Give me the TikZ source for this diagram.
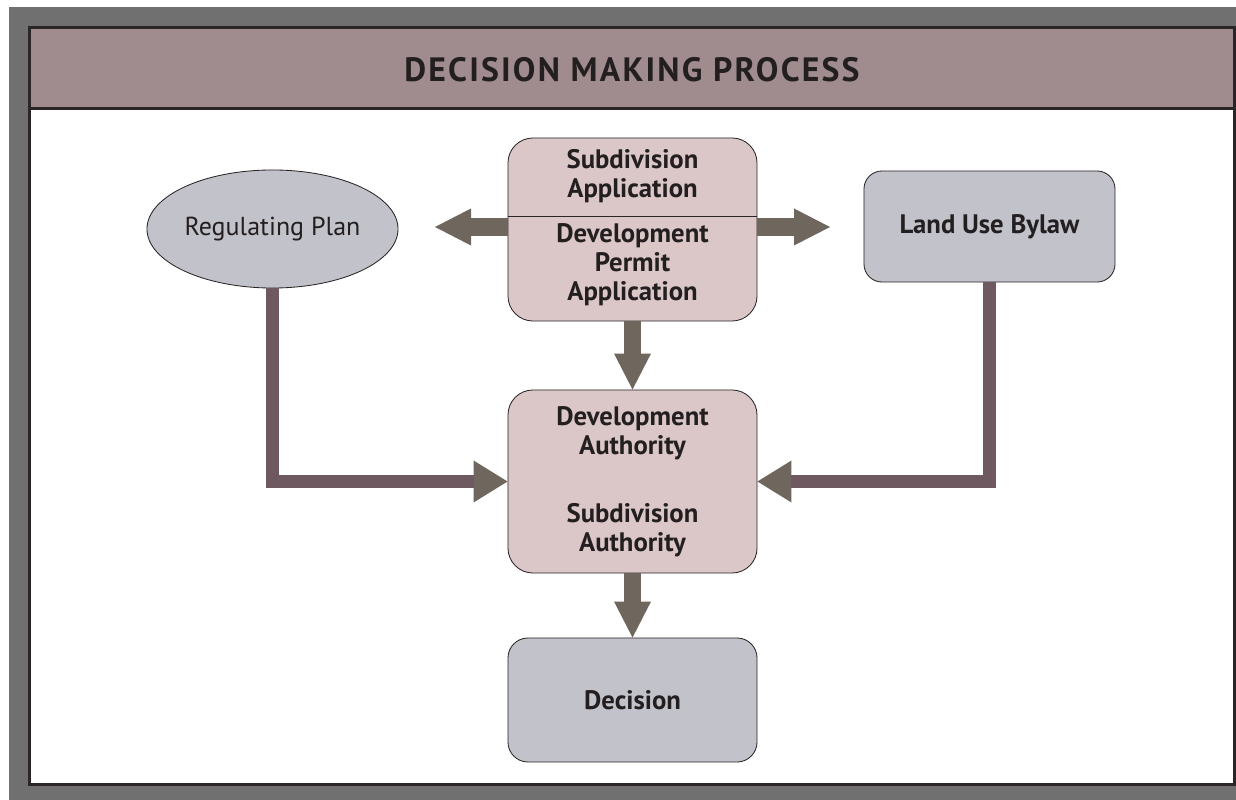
\documentclass[tikz,border=0pt]{standalone}
\usepackage{fontspec}
\setmainfont{PT Sans}
\usepackage{xcolor}
\usepackage{tikz}
\usetikzlibrary{shapes, arrows.meta, positioning}
\definecolor{dmframe}{RGB}{112,112,112}
\definecolor{dmhead}{RGB}{160,139,142}
\definecolor{dmline}{RGB}{42,37,39}
\definecolor{dmpink}{RGB}{219,199,199}
\definecolor{dmgray}{RGB}{194,194,202}
\definecolor{dmarrow}{RGB}{111,103,93}
\definecolor{dmelbow}{RGB}{110,89,96}
\definecolor{dmtext}{RGB}{35,31,32}

\begin{document}
\begin{tikzpicture}[x=0.025cm, y=-0.025cm,
    box/.style={draw=dmline, line width=0.6pt, rounded corners=0.625cm,
        minimum width=6.225cm, align=center, text=dmtext,
        font=\fontsize{19}{20.6}\selectfont\bfseries},
    boxtext/.style={align=center, text=dmtext, font=\fontsize{19}{20.6}\selectfont\bfseries},
    fatarrow/.style={dmarrow, line width=0.43cm,
        -{Triangle[length=0.9cm, width=0.925cm, line width=0pt]}},
    elbow/.style={dmelbow, line width=0.325cm,
        -{Triangle[length=0.85cm, width=1.05cm, line width=0pt, color=dmarrow]}}]
    \useasboundingbox (0,0) rectangle (1236,800);
    % frame and title band
    \fill[dmframe] (9,7) rectangle (1236,800);
    \draw[dmline, line width=2.2pt, fill=white] (29.5,27.5) rectangle (1235,784.5);
    \draw[dmline, line width=2.2pt, fill=dmhead] (29.5,27.5) rectangle (1235,108.5);
    \node[text=dmtext, font=\fontsize{24}{28}\selectfont\bfseries\addfontfeature{LetterSpace=6.5}] (title) at (632,70) {DECISION MAKING PROCESS};

    \node[ellipse, draw=dmline, line width=0.6pt, fill=dmgray, inner sep=0pt, minimum width=6.275cm,
        minimum height=2.95cm, text=dmtext, font=\fontsize{18.5}{20.6}\selectfont] (plan) at (272.5,229) {Regulating Plan};
    \node[box, fill=dmpink, minimum height=4.575cm] (app) at (632.5,229.5) {};
    \draw[dmline, line width=0.6pt] (app.west |- 0,216) -- (app.east |- 0,216);
    \node[boxtext] (subapp) at (632.5,176) {Subdivision\\Application};
    \node[boxtext] (devapp) at (632.5,265) {Development\\Permit\\Application};
    \node[box, fill=dmgray, minimum width=6.275cm, minimum height=2.775cm,
        rounded corners=0.45cm] (bylaw) at (989.5,226.5) {Land Use Bylaw};
    \node[box, fill=dmpink, minimum height=4.575cm] (auth) at (632.5,481.5)
        {Development\\Authority\\[0.975cm]Subdivision\\Authority};
    \node[box, fill=dmgray, minimum height=3.1cm, rounded corners=0.5cm] (decision) at (632.5,700) {Decision};

    \coordinate (lefttip) at (435,227);
    \coordinate (righttip) at (830,227);
    \draw[fatarrow] (app.west |- lefttip) -- (lefttip);
    \draw[fatarrow] (app.east |- righttip) -- (righttip);
    \draw[fatarrow] (app.south) -- (auth.north);
    \draw[fatarrow] (auth.south) -- (decision.north);
    \draw[elbow] (plan.south) |- (auth.west);
    \draw[elbow] (bylaw.south) |- (auth.east);
\end{tikzpicture}
\end{document}
